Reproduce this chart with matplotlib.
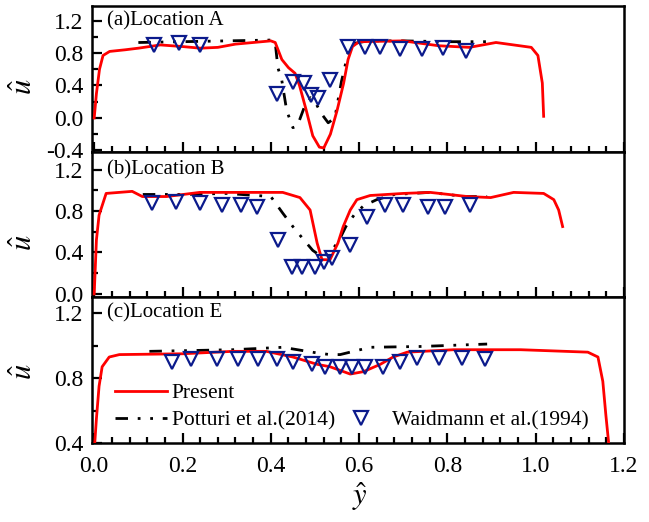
import matplotlib
matplotlib.use("Agg")
import matplotlib.pyplot as plt
from matplotlib.lines import Line2D
from matplotlib.ticker import MultipleLocator, FuncFormatter

plt.rcParams['font.family'] = ['Liberation Serif', 'DejaVu Serif']
plt.rcParams['mathtext.fontset'] = 'stix'

# ---- (a) Location A ----
a_present_y = [0.0, 0.005, 0.012, 0.02, 0.035, 0.07, 0.1, 0.15, 0.2, 0.24, 0.28, 0.32, 0.36, 0.4,
               0.41, 0.425, 0.44, 0.455, 0.465, 0.48, 0.495, 0.51, 0.52, 0.535, 0.55, 0.565,
               0.575, 0.585, 0.6, 0.7, 0.78, 0.85, 0.91, 0.95, 0.99, 1.005, 1.015, 1.018]
a_present_u = [0.0, 0.3, 0.6, 0.77, 0.82, 0.84, 0.86, 0.90, 0.88, 0.86, 0.87, 0.91, 0.93, 0.95,
               0.93, 0.72, 0.62, 0.55, 0.40, 0.1, -0.22, -0.36, -0.37, -0.2, 0.09, 0.43,
               0.72, 0.88, 0.94, 0.95, 0.89, 0.87, 0.93, 0.90, 0.87, 0.77, 0.43, 0.02]
a_potturi_y = [0.1, 0.2, 0.3, 0.4, 0.41, 0.416, 0.425, 0.436, 0.45, 0.46, 0.475, 0.49, 0.5,
               0.515, 0.53, 0.545, 0.56, 0.575, 0.59, 0.62, 0.7, 0.8, 0.89]
a_potturi_u = [0.93, 0.94, 0.95, 0.96, 0.93, 0.62, 0.46, 0.09, -0.12, -0.1, 0.12, 0.25, 0.2,
               0.05, -0.06, 0.0, 0.45, 0.8, 0.92, 0.95, 0.95, 0.94, 0.94]
a_exp_y = [0.136, 0.193, 0.239, 0.414, 0.45, 0.475, 0.49, 0.507, 0.534,
           0.575, 0.614, 0.648, 0.693, 0.743, 0.791, 0.841]
a_exp_u = [0.90, 0.92, 0.90, 0.30, 0.44, 0.43, 0.28, 0.25, 0.47,
           0.88, 0.87, 0.88, 0.85, 0.85, 0.86, 0.82]

# ---- (b) Location B ----
b_present_y = [0.0, 0.005, 0.011, 0.027, 0.086, 0.109, 0.164, 0.239, 0.427, 0.466, 0.489,
               0.505, 0.516, 0.534, 0.552, 0.564, 0.58, 0.595, 0.625, 0.7, 0.761, 0.845,
               0.898, 0.95, 1.018, 1.041, 1.052, 1.061]
b_present_u = [0.0, 0.52, 0.76, 0.97, 0.99, 0.94, 0.94, 0.98, 0.98, 0.93, 0.81,
               0.49, 0.33, 0.33, 0.49, 0.65, 0.81, 0.91, 0.95, 0.97, 0.98, 0.94,
               0.93, 0.98, 0.97, 0.91, 0.81, 0.65]
b_potturi_y = [0.11, 0.2, 0.3, 0.4, 0.427, 0.45, 0.475, 0.495, 0.515, 0.535, 0.555, 0.57,
               0.59, 0.61, 0.64, 0.68, 0.76, 0.84, 0.89]
b_potturi_u = [0.96, 0.96, 0.97, 0.94, 0.78, 0.65, 0.52, 0.42, 0.36, 0.40, 0.52, 0.65,
               0.77, 0.85, 0.91, 0.96, 0.98, 0.94, 0.94]
b_exp_y = [0.132, 0.186, 0.239, 0.29, 0.333, 0.368, 0.416, 0.448, 0.471, 0.5, 0.52, 0.539,
           0.579, 0.618, 0.659, 0.7, 0.755, 0.795, 0.852]
b_exp_u = [0.88, 0.89, 0.88, 0.86, 0.86, 0.84, 0.52, 0.26, 0.26, 0.26, 0.31, 0.35,
           0.47, 0.74, 0.86, 0.86, 0.84, 0.84, 0.86]

# ---- (c) Location E ----
c_present_y = [0.0, 0.005, 0.011, 0.018, 0.034, 0.057, 0.2, 0.314, 0.39, 0.45, 0.505, 0.534,
               0.58, 0.61, 0.648, 0.677, 0.709, 0.814, 0.966, 1.118, 1.141, 1.152, 1.159, 1.166]
c_present_u = [0.35, 0.55, 0.75, 0.87, 0.93, 0.945, 0.95, 0.965, 0.965, 0.93, 0.885, 0.87,
               0.825, 0.84, 0.885, 0.93, 0.96, 0.975, 0.975, 0.96, 0.93, 0.78, 0.57, 0.38]
c_potturi_y = [0.125, 0.314, 0.427, 0.505, 0.534, 0.557, 0.625, 0.739, 0.89]
c_potturi_u = [0.965, 0.975, 0.99, 0.955, 0.945, 0.945, 0.99, 0.995, 1.01]
c_exp_y = [0.177, 0.22, 0.277, 0.325, 0.37, 0.414, 0.45, 0.493, 0.523, 0.557, 0.584,
           0.614, 0.655, 0.693, 0.732, 0.78, 0.834, 0.886]
c_exp_u = [0.90, 0.915, 0.915, 0.92, 0.92, 0.915, 0.90, 0.885, 0.867, 0.867, 0.867,
           0.867, 0.87, 0.90, 0.925, 0.925, 0.925, 0.92]

panels = [
    ("(a)Location A", a_present_y, a_present_u, a_potturi_y, a_potturi_u, a_exp_y, a_exp_u,
     (-0.42, 1.38), 0.445),
    ("(b)Location B", b_present_y, b_present_u, b_potturi_y, b_potturi_u, b_exp_y, b_exp_u,
     (-0.03, 1.37), 0.372),
    ("(c)Location E", c_present_y, c_present_u, c_potturi_y, c_potturi_u, c_exp_y, c_exp_u,
     (0.4, 1.3), 0.486),
]

W, H = 649, 522
fig = plt.figure(figsize=(W / 100, H / 100), dpi=100)

left, right = 92 / W, 624 / W
edges = [6, 152, 297, 443]
dash = (0, (4.5, 3.5, 1, 3.5, 1, 3.5))
navy = '#0b1a8c'

axes = []
for i, (title, py, pu, qy, qu, ey, eu, ylim, ylab_y) in enumerate(panels):
    top, bot = 1 - edges[i] / H, 1 - edges[i + 1] / H
    ax = fig.add_axes([left, bot, right - left, top - bot])
    l1, = ax.plot(py, pu, color='#ff0000', lw=2.0, label='Present', zorder=3)
    l2, = ax.plot(qy, qu, color='black', lw=2.0, linestyle=dash, label='Potturi et al.(2014)',
                  zorder=2)
    l3, = ax.plot(ey, eu, linestyle='none', marker='v', markersize=10, markerfacecolor='none',
                  markeredgecolor=navy, markeredgewidth=1.6, label='Waidmann et al.(1994)',
                  zorder=4)
    ax.set_xlim(-0.005, 1.2)
    ax.set_ylim(*ylim)
    ax.xaxis.set_major_locator(MultipleLocator(0.2))
    ax.xaxis.set_minor_locator(MultipleLocator(0.04))
    ax.yaxis.set_major_locator(MultipleLocator(0.4))
    ax.yaxis.set_minor_locator(MultipleLocator(0.2))
    ax.tick_params(which='both', direction='in', top=False, right=False, labelsize=17,
                   width=1.6)
    ax.tick_params(which='major', length=7)
    ax.tick_params(which='minor', length=4)
    ax.tick_params(axis='y', pad=6)
    ax.tick_params(axis='x', pad=9)
    ax.yaxis.set_major_formatter(FuncFormatter(lambda v, p: f'{v:.1f}'))
    if i < 2:
        ax.tick_params(axis='x', labelbottom=False)
    for s in ax.spines.values():
        s.set_linewidth(1.8)
    ax.text(0.028, 1.2, title, fontsize=15, va='center', ha='left')
    ax.set_ylabel(r'$\hat{u}$', fontsize=22)
    ax.yaxis.set_label_coords(-0.10, ylab_y)
    axes.append((ax, l1, l2, l3))

# legend sits in the bottom panel; blank slot pushes the symbols entry to the second row
ax, l1, l2, l3 = axes[2]
blank = Line2D([], [], linestyle='none', marker='none')
ax.legend([l1, l2, blank, l3], ['Present', 'Potturi et al.(2014)', ' ', 'Waidmann et al.(1994)'],
          ncol=2, loc='upper left', bbox_to_anchor=(0.043, 0.41), frameon=False,
          fontsize=15.5, handlelength=2.4, handletextpad=0.25, columnspacing=0.0,
          labelspacing=0.35, borderpad=0, borderaxespad=0)

fig.text(360 / W, 1 - 497 / H, r'$\hat{y}$', fontsize=22, ha='center', va='center')

fig.savefig('out.png', dpi=100)
